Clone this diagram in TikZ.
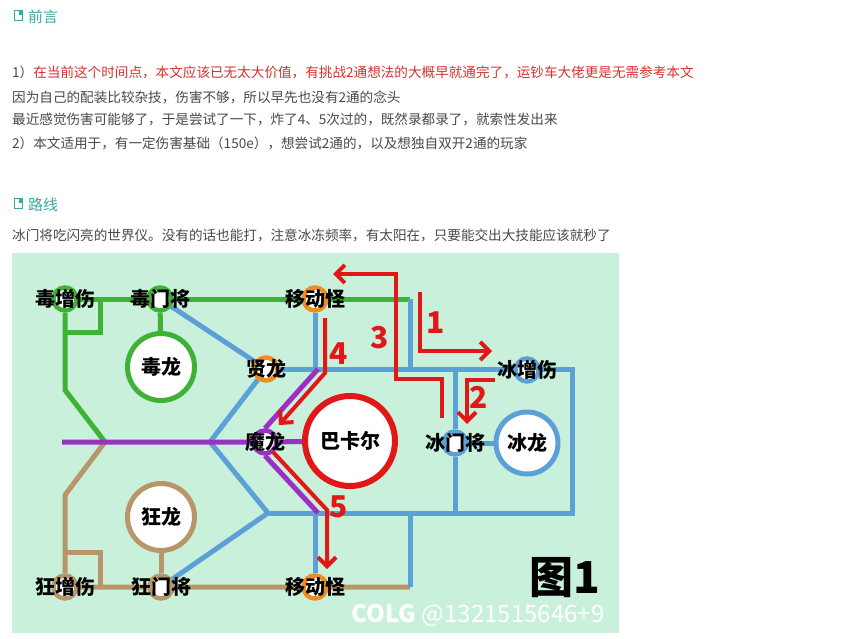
\documentclass[tikz,border=0pt]{standalone}
\usepackage{fontspec}
\setmainfont{Noto Sans CJK SC}
\usepackage{xcolor}
\definecolor{mapbg}{RGB}{200,240,218}
\definecolor{railgreen}{RGB}{62,178,52}
\definecolor{railblue}{RGB}{92,160,216}
\definecolor{railpurple}{RGB}{156,48,196}
\definecolor{railbrown}{RGB}{184,150,106}
\definecolor{railorange}{RGB}{238,142,30}
\definecolor{routered}{RGB}{226,24,24}
\definecolor{headteal}{RGB}{58,168,160}
\definecolor{textgray}{RGB}{72,72,72}
\definecolor{textred}{RGB}{214,48,48}
\usetikzlibrary{arrows.meta}
\usetikzlibrary{backgrounds}
\newcommand{\sizestation}{23pt}
\newcommand{\sizeboss}{67pt}
\tikzset{
    station/.style={draw=#1, circle, fill=white, line width=4.5pt, minimum size=\sizestation, inner sep=0pt},
    boss/.style={station=#1, line width=5pt, minimum size=\sizeboss},
    tag/.style={font=\bfseries\fontsize{20}{20}\selectfont, text=black, inner sep=0pt},
    rail/.style={line width=5pt, #1},
    route/.style={line width=4pt, routered},
    routehead/.style={route, -{Straight Barb[length=9pt, width=18pt]}},
    routenum/.style={routered, font=\bfseries\fontsize{30}{30}\selectfont},
    para/.style={anchor=west, inner sep=0pt, text=textgray, font=\fontsize{13.6}{13.6}\selectfont},
    heading/.style={anchor=west, inner sep=0pt, text=headteal, font=\fontsize{15}{15}\selectfont},
    bookmark/.style={draw=headteal, line width=1pt, minimum width=8pt, minimum height=10pt, inner sep=0pt, anchor=west,
        path picture={\fill[headteal] (path picture bounding box.north east) rectangle ++(-4pt,-4pt);}}
}

\begin{document}
\begin{tikzpicture}[x=1pt, y=-1pt]
\useasboundingbox (0,0) rectangle (859,639);

% text above the map
\node[bookmark] (icon-preface) at (14,16) {};
\node[heading] (preface) at (28,17) {前言};
\node[para] (line1) at (12,72) {1）\textcolor{textred}{在当前这个时间点，本文应该已无太大价值，有挑战2通想法的大概早就通完了，运钞车大佬更是无需参考本文}};
\node[para] (line2) at (12,97) {因为自己的配装比较杂技，伤害不够，所以早先也没有2通的念头};
\node[para] (line3) at (12,119) {最近感觉伤害可能够了，于是尝试了一下，炸了4、5次过的，既然录都录了，就索性发出来};
\node[para] (line4) at (12,143) {2）本文适用于，有一定伤害基础（150e），想尝试2通的，以及想独自双开2通的玩家};
\node[bookmark] (icon-route) at (14,204) {};
\node[heading] (route-title) at (28,205) {路线};
\node[para] (line5) at (12,235) {冰门将吃闪亮的世界仪。没有的话也能打，注意冰冻频率，有太阳在，只要能交出大技能应该就秒了};

% stations
\path
  (65,299) node[station=railgreen, label={[tag]center:毒增伤}] (poison-buff) {}
  ++(95,0) node[station=railgreen, label={[tag]center:毒门将}] (poison-gate) {}
  ++(155,0) node[station=railorange, label={[tag]center:移动怪}] (mover-top) {};
\path
  (65,587) node[station=railbrown, label={[tag]center:狂增伤}] (rage-buff) {}
  ++(96,0) node[station=railbrown, label={[tag]center:狂门将}] (rage-gate) {}
  ++(154,0) node[station=railorange, label={[tag]center:移动怪}] (mover-bottom) {};
\node[boss=railgreen, tag] (poison-dragon) at (161,367) {毒龙};
\node[boss=railbrown, tag] (rage-dragon) at (161,517) {狂龙};
\node[station=railorange, label={[tag]center:贤龙}] (sage-dragon) at (266,369) {};
\node[station=railpurple, label={[tag]center:魔龙}] (demon-dragon) at (265,442) {};
\node[boss=routered, tag, line width=6pt, minimum size=90pt] (bakal) at (350,441) {巴卡尔};
\node[station=railblue, label={[tag]center:冰增伤}] (ice-buff) at (527,370) {};
\node[station=railblue, label={[tag]center:冰门将}] (ice-gate) at (455,443) {};
\node[boss=railblue, tag, minimum size=62pt] (ice-dragon) at (527,443) {冰龙};

\coordinate (g-square-top) at (100,299);
\coordinate (g-square-bottom) at (100,332);
\coordinate (g-square-left) at (65,332);
\coordinate (g-bend) at (65,390);
\coordinate (g-end) at (410,299);
\coordinate (cross) at (105,442);
\coordinate (p-start) at (62,442);
\coordinate (p-top) at (318,369);
\coordinate (p-bottom) at (318,513);
\coordinate (b-left) at (210,442);
\coordinate (b-low) at (268,513);
\coordinate (b-top-right) at (572,369);
\coordinate (b-bottom-right) at (572,513);
\coordinate (b-mid-top) at (315,369);
\coordinate (b-x410-top) at (410,369);
\coordinate (b-ice-top) at (455,369);
\coordinate (b-ice-bottom) at (455,513);
\coordinate (b-x315-bottom) at (315,513);
\coordinate (b-x410-bottom) at (410,513);
\coordinate (br-x410) at (410,587);
\coordinate (br-bend) at (65,495);
\coordinate (br-square-left) at (65,552);
\coordinate (br-square-top) at (100,552);
\coordinate (br-square-bottom) at (100,587);

\begin{scope}[on background layer]
  \fill[mapbg] (12,253) rectangle (619,633);
  % green
  \draw[rail=railgreen] (poison-buff) -- (poison-gate) -- (mover-top) -- (g-end);
  \draw[rail=railgreen] (g-square-top) -- (g-square-bottom) -- (g-square-left);
  \draw[rail=railgreen] (poison-buff) -- (g-bend) -- (cross);
  \draw[rail=railgreen] (poison-gate) -- (poison-dragon);
  % brown
  \draw[rail=railbrown] (cross) -- (br-bend) -- (rage-buff) -- (rage-gate) -- (mover-bottom) -- (br-x410);
  \draw[rail=railbrown] (br-square-left) -- (br-square-top) -- (br-square-bottom);
  \draw[rail=railbrown] (rage-gate) -- (rage-dragon);
  % blue
  \draw[rail=railblue] (poison-gate) -- (sage-dragon) -- (b-left) -- (b-low) -- (rage-gate);
  \draw[rail=railblue] (sage-dragon) -- (b-top-right) -- (b-bottom-right) -- (b-low);
  \draw[rail=railblue] (mover-top) -- (b-mid-top);
  \draw[rail=railblue] (g-end) -- (b-x410-top);
  \draw[rail=railblue] (b-ice-top) -- (ice-gate) -- (b-ice-bottom);
  \draw[rail=railblue] (ice-gate) -- (ice-dragon);
  \draw[rail=railblue] (b-x315-bottom) -- (mover-bottom);
  \draw[rail=railblue] (b-x410-bottom) -- (br-x410);
  % purple
  \draw[rail=railpurple] (p-start) -- (demon-dragon) -- (bakal);
  \draw[rail=railpurple] (demon-dragon.north) -- (p-top);
  \draw[rail=railpurple] (demon-dragon.south) -- (p-bottom);
\end{scope}

% route
\coordinate (r1-start) at (420,292);
\coordinate (r1-bend) at (420,351);
\coordinate (r1-end) at (492,351);
\coordinate (r2-start) at (495,380);
\coordinate (r2-bend) at (467,380);
\coordinate (r2-end) at (467,424);
\coordinate (r3-start) at (442,418);
\coordinate (r3-a) at (442,379);
\coordinate (r3-b) at (396,379);
\coordinate (r3-c) at (396,274);
\coordinate (r3-end) at (333,274);
\coordinate (r4-start) at (325,318);
\coordinate (r4-bend) at (325,373);
\coordinate (r4-end) at (279,425);
\coordinate (r5-start) at (273,452);
\coordinate (r5-bend) at (327,510);
\coordinate (r5-end) at (327,569);

\draw[routehead] (r1-start) -- (r1-bend) -- (r1-end);
\draw[routehead] (r2-start) -- (r2-bend) -- (r2-end);
\draw[routehead] (r3-start) -- (r3-a) -- (r3-b) -- (r3-c) -- (r3-end);
\draw[routehead] (r4-start) -- (r4-bend) -- (r4-end);
\draw[routehead] (r5-start) -- (r5-bend) -- (r5-end);

\node[routenum] (num1) at (436,323) {1};
\node[routenum] (num2) at (479,397) {2};
\node[routenum] (num3) at (380,338) {3};
\node[routenum] (num4) at (339,354) {4};
\node[routenum] (num5) at (339,507) {5};

\node[font=\bfseries\fontsize{44}{44}\selectfont, text=black] (fig-title) at (565,578) {图1};
\node[font=\fontsize{24}{24}\selectfont, text=white] (watermark) at (478,615) {{\bfseries COLG} @1321515646+9};
\end{tikzpicture}
\end{document}
